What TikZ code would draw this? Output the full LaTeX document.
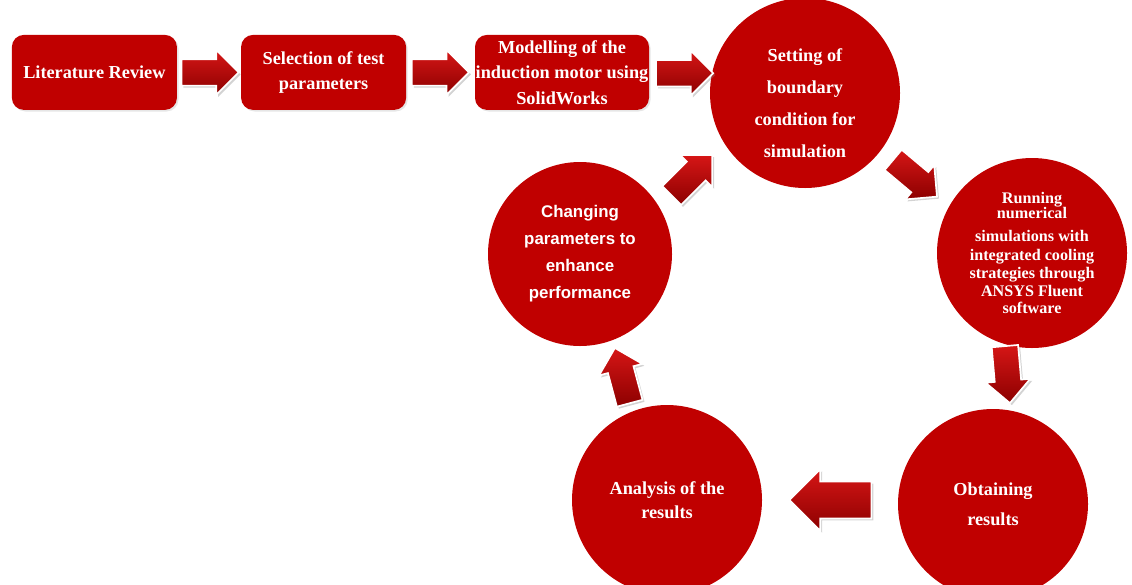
\documentclass[tikz,border=0pt]{standalone}
\usepackage{fontspec}
\setmainfont{Liberation Serif}
\setsansfont{Liberation Sans}
\usetikzlibrary{shapes.arrows,shadows,calc}

\definecolor{deepred}{RGB}{192,0,0}
\definecolor{lightred}{RGB}{214,22,22}
\definecolor{darkred}{RGB}{140,0,0}

\begin{document}
\begin{tikzpicture}[
    box/.style={fill=deepred, rounded corners=0.3cm, minimum width=4.125cm, minimum height=1.875cm, inner sep=0pt, align=center, text=white, font=\bfseries\fontsize{13}{18}\selectfont, drop shadow={opacity=0.2, shadow xshift=0.04cm, shadow yshift=-0.04cm}},
    disc/.style={circle, fill=deepred, minimum size=4.75cm, inner sep=0pt, align=center, text=white},
    txt/.style={align=center, text=white, inner sep=0pt},
    blk/.style={single arrow, draw=white, line width=1.2pt, top color=lightred, bottom color=darkred, single arrow head extend=0.23cm, minimum height=1.43cm, minimum width=1.08cm, inner xsep=0pt, inner ysep=0.31cm, drop shadow={opacity=0.35, shadow xshift=0.05cm, shadow yshift=-0.05cm}}
]
\clip (0,0) rectangle (28.3,-14.6);

% Top row
\node[box] (lit) at (2.36,-1.81) {Literature Review};
\node[box] (sel) at (8.09,-1.81) {Selection of test\\parameters};
\node[box, minimum width=4.35cm] (mod) at (14.05,-1.81) {Modelling of the\\induction motor using\\SolidWorks};

% Cycle of circles
\node[disc] (setb) at (20.125,-2.325) {};
\node[txt, font=\bfseries\fontsize{13}{22.8}\selectfont] at ([yshift=-0.26cm]setb.center) {Setting of\\boundary\\condition for\\simulation};
\node[disc, font=\bfseries\fontsize{11.5}{13}\selectfont] (run) at (25.8,-6.325) {Running\\[-2.3pt]numerical\\[3.4pt]simulations with\\[0.5pt]integrated cooling\\strategies through\\ANSYS Fluent\\[-0.9pt]software};
\node[disc, font=\bfseries\fontsize{13}{21.3}\selectfont] (obt) at (24.825,-12.6) {Obtaining\\results};
\node[disc, font=\bfseries\fontsize{13}{17}\selectfont] (ana) at (16.675,-12.5) {Analysis of the\\results};
\node[disc, minimum size=4.6cm, font=\sffamily\bfseries\fontsize{12}{19.2}\selectfont] (chg) at (14.5,-6.35) {Changing\\parameters to\\enhance\\performance};

% Block arrows
\node[blk] (a1) at ($(lit.east)!0.5!(sel.west)+(-0.14,0)$) {};
\node[blk] (a2) at ($(sel.east)!0.5!(mod.west)+(-0.17,0)$) {};
\node[blk] (a3) at (16.95,-1.83) {};
\node[blk, rotate=-40] (a4) at (22.75,-4.35) {};
\node[blk, rotate=-85] (a5) at (25.17,-9.2) {};
\node[blk, rotate=180, minimum height=2.05cm, minimum width=1.5cm, inner ysep=0.44cm, single arrow head extend=0.31cm] (a6) at (20.99,-12.5) {};
\node[blk, rotate=105] (a7) at (15.6,-9.55) {};
\node[blk, rotate=45] (a8) at (17.18,-4.5) {};
\end{tikzpicture}
\end{document}
